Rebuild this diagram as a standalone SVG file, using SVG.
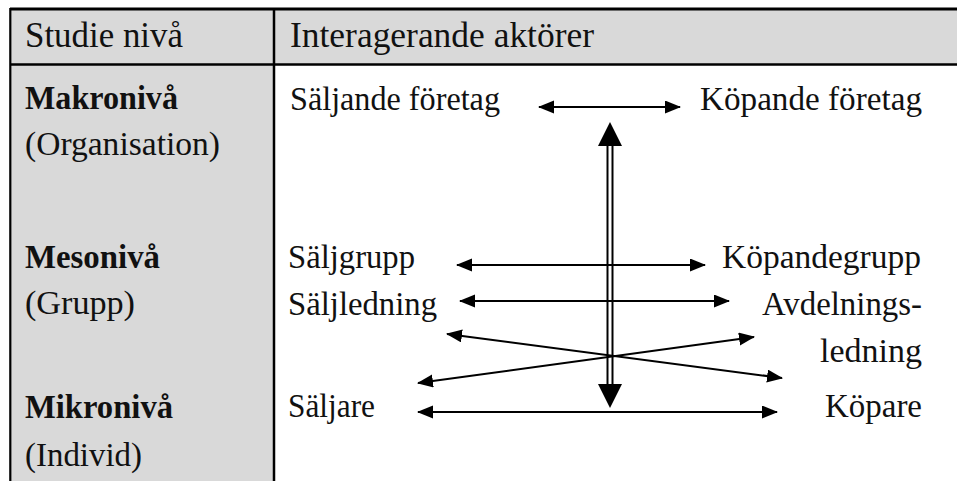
<svg xmlns="http://www.w3.org/2000/svg" width="957" height="481" viewBox="0 0 957 481">
<style>
text{font-family:"Liberation Serif","Times New Roman","DejaVu Serif",serif;font-size:33px;fill:#111}
.h{font-size:35px}
.b{font-weight:bold}
.r{text-anchor:end}
.ln{stroke:#000;stroke-width:2;fill:none}
.thin{stroke:#000;stroke-width:2;fill:none;marker-start:url(#ah);marker-end:url(#ah)}
</style>
<defs>
<marker id="ah" markerUnits="userSpaceOnUse" markerWidth="16" markerHeight="14" refX="15" refY="6.5" orient="auto-start-reverse" viewBox="0 0 16 14">
<path d="M0,0 L16,6.5 L0,13 Z" fill="#000"/>
</marker>
</defs>
<g id="table">
<rect x="10" y="9" width="947" height="55" fill="#d9d9d9"/>
<rect x="10" y="64" width="264" height="417" fill="#d9d9d9"/>
<line x1="10" y1="9" x2="957" y2="9" stroke="#000" stroke-width="3"/>
<line x1="10" y1="64.5" x2="957" y2="64.5" stroke="#000" stroke-width="2.5"/>
<line x1="10.3" y1="8" x2="10.3" y2="481" stroke="#000" stroke-width="2.2"/>
<line x1="274" y1="8" x2="274" y2="481" stroke="#000" stroke-width="2.5"/>
</g>
<g id="header">
<text x="25" y="47" class="h" textLength="158" lengthAdjust="spacingAndGlyphs">Studie nivå</text>
<text x="290" y="47" class="h" textLength="304" lengthAdjust="spacingAndGlyphs">Interagerande aktörer</text>
</g>
<g id="levels">
<text x="25" y="109" class="b" textLength="153" lengthAdjust="spacingAndGlyphs">Makronivå</text>
<text x="25" y="155" textLength="195" lengthAdjust="spacingAndGlyphs">(Organisation)</text>
<text x="25" y="268" class="b" textLength="135" lengthAdjust="spacingAndGlyphs">Mesonivå</text>
<text x="25" y="314" textLength="110" lengthAdjust="spacingAndGlyphs">(Grupp)</text>
<text x="25" y="418" class="b" textLength="148" lengthAdjust="spacingAndGlyphs">Mikronivå</text>
<text x="25" y="466" textLength="117" lengthAdjust="spacingAndGlyphs">(Individ)</text>
</g>
<g id="seller-side">
<text x="290" y="110" textLength="210" lengthAdjust="spacingAndGlyphs">Säljande företag</text>
<text x="288" y="268" textLength="127" lengthAdjust="spacingAndGlyphs">Säljgrupp</text>
<text x="288" y="315" textLength="149" lengthAdjust="spacingAndGlyphs">Säljledning</text>
<text x="288" y="417" textLength="87" lengthAdjust="spacingAndGlyphs">Säljare</text>
</g>
<g id="buyer-side">
<text x="700" y="110" textLength="222" lengthAdjust="spacingAndGlyphs">Köpande företag</text>
<text x="722" y="268" textLength="199" lengthAdjust="spacingAndGlyphs">Köpandegrupp</text>
<text x="762" y="315" textLength="160" lengthAdjust="spacingAndGlyphs">Avdelnings-</text>
<text x="820" y="362" textLength="102" lengthAdjust="spacingAndGlyphs">ledning</text>
<text x="825" y="417" textLength="97" lengthAdjust="spacingAndGlyphs">Köpare</text>
</g>
<g id="connectors">
<line class="thin" x1="539" y1="107" x2="680" y2="107"/>
<line class="thin" x1="457" y1="265" x2="705" y2="265"/>
<line class="thin" x1="460" y1="301" x2="729" y2="301"/>
<line class="thin" x1="447" y1="334" x2="782" y2="378"/>
<line class="thin" x1="418" y1="383" x2="754" y2="337"/>
<line class="thin" x1="418" y1="412" x2="777" y2="412"/>
<line class="ln" x1="607.5" y1="143" x2="607.5" y2="387"/>
<line class="ln" x1="612.5" y1="143" x2="612.5" y2="387"/>
<path d="M610,122 L622,146 L598,146 Z" fill="#000"/>
<path d="M610,408 L622,384 L598,384 Z" fill="#000"/>
</g>
</svg>
